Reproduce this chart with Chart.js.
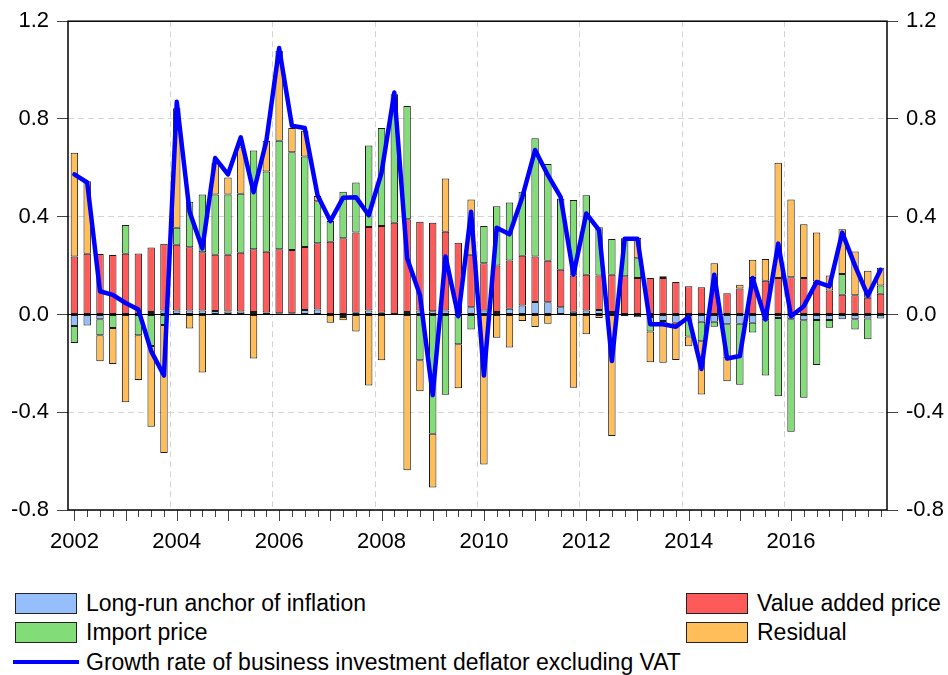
<!DOCTYPE html>
<html>
<head>
<meta charset="utf-8">
<script src="https://cdn.jsdelivr.net/npm/chart.js@4.4.1/dist/chart.umd.min.js"></script>
<style>
  body { margin: 0; background: #fff; font-family: "Liberation Sans", Arial, sans-serif; }
  #wrap { position: relative; width: 948px; height: 675px; overflow: hidden; }
  #chart { position: absolute; left: 0; top: 0; }
  .lg { position: absolute; font-size: 23px; line-height: 26px; color: #000; white-space: nowrap; }
  .sw { position: absolute; box-sizing: border-box; border: 1px solid #222; }
  .ln { position: absolute; height: 4px; }
</style>
</head>
<body>
<div id="wrap">
  <canvas id="chart" width="948" height="560"></canvas>
</div>
<script>
// quarters 2002Q1 .. 2017Q4
var years = ['2002', '2003', '2004', '2005', '2006', '2007', '2008', '2009',
             '2010', '2011', '2012', '2013', '2014', '2015', '2016', '2017'];
var quarters = ['Q1', 'Q2', 'Q3', 'Q4'];
var yearTicks = ['2002', '2004', '2006', '2008', '2010', '2012', '2014', '2016'];

var anchor = [
  -0.047, -0.045, -0.02, 0, 0, 0, 0.01, 0.016,
  0.016, 0.016, 0.016, 0.014, 0.012, 0.012, 0.01, 0.008,
  0.005, 0.005, 0.018, 0.02, 0, -0.01, 0.007, 0.016,
  0.007, 0.002, 0.01, 0.016, 0.013, 0.016, 0.005, 0.03,
  0.016, 0.01, 0.023, 0.037, 0.051, 0.05, 0.03, 0.011,
  0.016, 0.018, 0.01, 0, -0.011, -0.01, -0.027, -0.034,
  0, -0.03, -0.03, -0.04, -0.038, -0.034, -0.024, -0.014,
  -0.02, -0.024, -0.023, -0.023, -0.02, -0.02, -0.016, -0.016
];
var valueAdded = [
  0.237, 0.248, 0.247, 0.243, 0.248, 0.25, 0.264, 0.273,
  0.269, 0.259, 0.239, 0.23, 0.232, 0.241, 0.257, 0.249,
  0.262, 0.259, 0.258, 0.271, 0.298, 0.312, 0.328, 0.342,
  0.355, 0.373, 0.38, 0.363, 0.362, 0.323, 0.289, 0.214,
  0.194, 0.19, 0.198, 0.203, 0.186, 0.17, 0.153, 0.148,
  0.147, 0.141, 0.153, 0.156, 0.149, 0.149, 0.149, 0.133,
  0.115, 0.111, 0.1, 0.087, 0.106, 0.149, 0.138, 0.149,
  0.152, 0.149, 0.135, 0.098, 0.081, 0.079, 0.068, 0.085
];
var importPrice = [
  -0.07, 0, -0.065, -0.055, 0.118, -0.085, -0.129, -0.043,
  0.07, 0.186, 0.236, 0.247, 0.247, 0.241, 0.404, 0.328,
  0.444, 0.4, 0.37, 0.172, 0.084, 0.19, 0.205, 0.333,
  0.401, 0.526, 0.463, -0.187, -0.488, -0.328, -0.122, -0.061,
  0.152, 0.243, 0.237, 0.262, 0.484, 0.396, 0.291, 0.309,
  0.325, 0.198, 0.146, 0.156, 0.081, -0.06, 0.007, 0,
  -0.09, -0.08, -0.02, -0.133, -0.25, -0.04, -0.226, -0.321,
  -0.46, -0.317, -0.184, -0.031, 0.085, -0.041, -0.085, 0.034
];
var residual = [
  0.425, 0.297, -0.106, -0.148, -0.359, -0.183, -0.33, -0.524,
  0.489, -0.057, -0.237, 0.13, 0.069, 0.19, -0.18, 0.126,
  0.368, 0.099, 0.106, 0.022, -0.034, -0.014, -0.07, -0.291,
  -0.187, 0, -0.637, -0.127, -0.22, 0.217, -0.18, 0.226,
  -0.614, -0.095, -0.135, -0.027, -0.051, -0.038, 0, -0.3,
  -0.081, -0.014, -0.497, -0.007, 0.084, -0.125, -0.17, -0.152,
  -0.04, -0.217, 0.11, -0.1, 0.016, 0.075, 0.089, 0.472,
  0.318, 0.22, 0.2, 0.062, 0.183, 0.179, 0.111, 0.072
];
var growth = [
  0.573, 0.54, 0.095, 0.08, 0.047, 0.02, -0.15, -0.25,
  0.87, 0.42, 0.27, 0.64, 0.573, 0.725, 0.5, 0.71,
  1.09, 0.772, 0.763, 0.488, 0.382, 0.478, 0.48, 0.406,
  0.58, 0.908, 0.23, 0.08, -0.33, 0.237, -0.007, 0.42,
  -0.25, 0.355, 0.328, 0.48, 0.673, 0.57, 0.48, 0.163,
  0.413, 0.345, -0.19, 0.31, 0.31, -0.04, -0.04, -0.05,
  -0.01, -0.223, 0.163, -0.18, -0.17, 0.149, -0.02, 0.29,
  -0.007, 0.034, 0.133, 0.115, 0.335, 0.2, 0.077, 0.183
];

var labels = [];
years.forEach(function(y) {
  quarters.forEach(function(q) { labels.push(y + q); });
});

var FONT = '"Liberation Sans", Arial, sans-serif';

function bar(label, data, color) {
  return {
    type: 'bar', label: label, data: data, backgroundColor: color,
    borderColor: '#1a1a1a', borderWidth: 1, borderSkipped: false,
    barPercentage: 0.58, categoryPercentage: 1.0, order: 1, yAxisID: 'y'
  };
}

var axisDecor = {
  id: 'axisDecor',
  beforeDatasetsDraw: function(chart) {
    var ctx = chart.ctx, a = chart.chartArea;
    var y0 = Math.round(chart.scales.y.getPixelForValue(0)) + 0.5;
    ctx.save();
    ctx.strokeStyle = '#000';
    ctx.lineWidth = 1;
    ctx.beginPath();
    ctx.moveTo(a.left, y0);
    ctx.lineTo(a.right, y0);
    ctx.stroke();
    ctx.restore();
  },
  afterDraw: function(chart) {
    var ctx = chart.ctx, a = chart.chartArea, xs = chart.scales.x;
    ctx.save();
    ctx.strokeStyle = '#444';
    ctx.lineWidth = 1;
    labels.forEach(function(lab, i) {
      var px = Math.round(xs.getPixelForValue(i)) + 0.5;
      var len = lab.slice(-2) === 'Q1' ? 11 : 7;
      ctx.beginPath();
      ctx.moveTo(px, a.bottom);
      ctx.lineTo(px, a.bottom + len);
      ctx.stroke();
    });
    ctx.strokeStyle = '#000';
    ctx.lineWidth = 1.5;
    ctx.strokeRect(a.left, a.top, a.right - a.left, a.bottom - a.top);
    ctx.restore();
  }
};

function yTicks() {
  return {
    stepSize: 0.4, color: '#000', padding: 8,
    font: { family: FONT, size: 22 },
    callback: function(v) { return Math.abs(v) < 1e-9 ? '0.0' : v.toFixed(1); }
  };
}

var chart = new Chart(document.getElementById('chart'), {
  data: {
    labels: labels,
    datasets: [
      bar('Long-run anchor of inflation', anchor, '#96BEFA'),
      bar('Value added price', valueAdded, '#FF5A5A'),
      bar('Import price', importPrice, '#82DC78'),
      bar('Residual', residual, '#FFBE5A'),
      {
        type: 'line', label: 'Growth rate of business investment deflator excluding VAT',
        data: growth, borderColor: '#0000FF', backgroundColor: '#0000FF',
        borderWidth: 4.5, pointRadius: 0, tension: 0, fill: false,
        borderJoinStyle: 'round', borderCapStyle: 'round', order: 0, yAxisID: 'y2'
      }
    ]
  },
  options: {
    responsive: false,
    animation: false,
    devicePixelRatio: 1,
    layout: { padding: { top: 18, left: 0, right: 0, bottom: 0 } },
    plugins: { legend: { display: false }, tooltip: { enabled: false } },
    scales: {
      x: {
        type: 'category', stacked: true, offset: true,
        grid: {
          offset: true, drawTicks: false, lineWidth: 1,
          color: function(c) { return (c.index % 8 === 0 && c.index > 0 && c.index < labels.length) ? '#d4d4d4' : 'rgba(0,0,0,0)'; }
        },
        border: { display: false, dash: [6, 4] },
        ticks: {
          autoSkip: false, maxRotation: 0, minRotation: 0, padding: 19, color: '#000',
          font: { family: FONT, size: 22 },
          callback: function(v) {
            var l = labels[v];
            var y = l.slice(0, 4);
            return (l.slice(-2) === 'Q1' && yearTicks.indexOf(y) >= 0) ? y : '';
          }
        },
        afterFit: function(s) { s.height = 50; }
      },
      y: {
        stacked: true, position: 'left', min: -0.8, max: 1.2,
        ticks: yTicks(),
        grid: {
          lineWidth: 1, tickLength: 11, tickColor: '#444',
          color: function(c) { return (c.tick && Math.abs(c.tick.value) < 1e-9) ? 'rgba(0,0,0,0)' : '#d4d4d4'; }
        },
        border: { display: false, dash: [6, 4] },
        afterFit: function(s) { s.width = 68; }
      },
      y2: {
        position: 'right', min: -0.8, max: 1.2,
        ticks: yTicks(),
        grid: { drawOnChartArea: false, tickLength: 11, tickColor: '#444' },
        border: { display: false },
        afterFit: function(s) { s.width = 61; }
      }
    }
  },
  plugins: [axisDecor]
});

// legend laid out like the original: two columns of boxes, line entry below
var legendSpots = [
  { ds: 0, x: 15, y: 593, tx: 86, ty: 590 },
  { ds: 2, x: 15, y: 622, tx: 86, ty: 619 },
  { ds: 4, x: 13, y: 660, tx: 86, ty: 648.5 },
  { ds: 1, x: 686, y: 593, tx: 757, ty: 590 },
  { ds: 3, x: 686, y: 622, tx: 757, ty: 619 }
];
var wrap = document.getElementById('wrap');
legendSpots.forEach(function(s) {
  var d = chart.data.datasets[s.ds];
  var sw = document.createElement('div');
  if (d.type === 'line') {
    sw.className = 'ln';
    sw.style.left = s.x + 'px';
    sw.style.top = s.y + 'px';
    sw.style.width = '66px';
    sw.style.background = d.borderColor;
  } else {
    sw.className = 'sw';
    sw.style.left = s.x + 'px';
    sw.style.top = s.y + 'px';
    sw.style.width = '62px';
    sw.style.height = '21px';
    sw.style.background = d.backgroundColor;
  }
  wrap.appendChild(sw);
  var t = document.createElement('div');
  t.className = 'lg';
  t.style.left = s.tx + 'px';
  t.style.top = s.ty + 'px';
  t.textContent = d.label;
  wrap.appendChild(t);
});
</script>
</body>
</html>
